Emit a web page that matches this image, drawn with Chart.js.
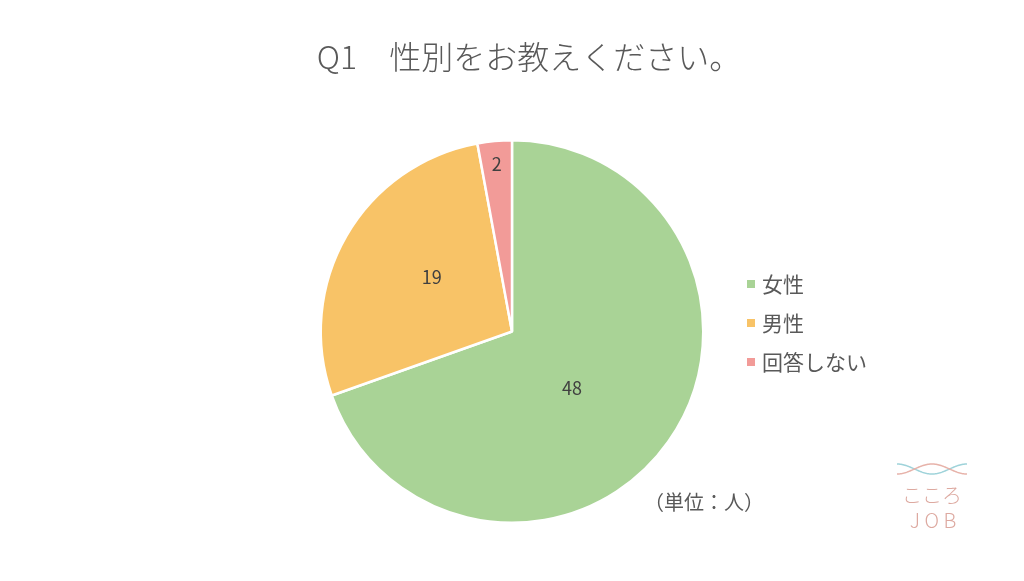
<!DOCTYPE html>
<html lang="ja">
<head>
<meta charset="utf-8">
<title>Q1 性別をお教えください。</title>
<script src="https://cdn.jsdelivr.net/npm/chart.js@4.4.1/dist/chart.umd.min.js"></script>
<style>
  html, body { margin: 0; padding: 0; background: #ffffff; }
  #wrap { position: relative; width: 1024px; height: 581px; }
  canvas { display: block; }
</style>
</head>
<body>
<div id="wrap"><canvas id="chart" width="1024" height="581"></canvas></div>
<script>
// Survey answers (people)
const categories = ['女性', '男性', '回答しない'];
const counts = [48, 19, 2];
const sliceColors = ['#A9D396', '#F8C367', '#F29B98'];
const titleText = 'Q1　性別をお教えください。';
const unitText = '（単位：人）';

const FONT = '"Noto Sans CJK JP", "Noto Sans", sans-serif';
const TEXT_GRAY = '#595959';

// Value labels placed inside each slice (radius fraction, angle nudge in radians)
const labelRadius = [0.43, 0.505, 0.88];
const labelAngleShift = [0.14, 0.068, 0];
const sliceLabels = {
  id: 'sliceLabels',
  afterDatasetsDraw(chart) {
    const ctx = chart.ctx;
    const meta = chart.getDatasetMeta(0);
    ctx.save();
    ctx.font = '18px ' + FONT;
    ctx.fillStyle = '#404040';
    ctx.textAlign = 'center';
    ctx.textBaseline = 'middle';
    meta.data.forEach((arc, i) => {
      const p = arc.getProps(['x', 'y', 'startAngle', 'endAngle', 'outerRadius'], true);
      const mid = (p.startAngle + p.endAngle) / 2 + labelAngleShift[i];
      const r = p.outerRadius * labelRadius[i];
      ctx.fillText(String(counts[i]), p.x + Math.cos(mid) * r, p.y + Math.sin(mid) * r);
    });
    ctx.restore();
  }
};

// Title, legend, unit note and logo
const decorations = {
  id: 'decorations',
  afterDraw(chart) {
    const ctx = chart.ctx;
    ctx.save();
    // title
    ctx.fillStyle = TEXT_GRAY;
    ctx.font = '300 32px ' + FONT;
    ctx.textAlign = 'center';
    ctx.textBaseline = 'middle';
    ctx.fillText(titleText, 529, 57);

    // legend
    ctx.textAlign = 'left';
    ctx.font = '21px ' + FONT;
    categories.forEach((name, i) => {
      const y = 284 + i * 39;
      ctx.fillStyle = sliceColors[i];
      ctx.fillRect(747, y - 4, 8, 8);
      ctx.fillStyle = TEXT_GRAY;
      ctx.fillText(name, 762, y);
    });

    // unit
    ctx.font = '20px ' + FONT;
    ctx.fillText(unitText, 644, 502);

    // logo waves
    const drawWave = (color, sign) => {
      ctx.beginPath();
      for (let x = 0; x <= 70; x++) {
        const y = 469 - sign * Math.cos(x / 70 * 2 * Math.PI) * 5;
        if (x === 0) ctx.moveTo(897 + x, y); else ctx.lineTo(897 + x, y);
      }
      ctx.strokeStyle = color;
      ctx.lineWidth = 1.5;
      ctx.stroke();
    };
    drawWave('#9FD3DA', 1);
    drawWave('#E7B3AA', -1);
    ctx.fillStyle = '#DDA9A0';
    ctx.textAlign = 'center';
    ctx.font = '300 20px ' + FONT;
    ctx.fillText('こころ', 932, 495);
    ctx.font = '300 20px ' + FONT;
    ctx.fillText('J O B', 933, 520);
    ctx.restore();
  }
};

new Chart(document.getElementById('chart'), {
  type: 'pie',
  data: {
    labels: categories,
    datasets: [{
      data: counts,
      backgroundColor: sliceColors,
      borderColor: '#ffffff',
      borderWidth: 2.5
    }]
  },
  options: {
    responsive: false,
    animation: false,
    rotation: 0,
    layout: { padding: { top: 139, bottom: 57, left: 0, right: 0 } },
    plugins: {
      legend: { display: false },
      title: { display: false },
      tooltip: { enabled: false }
    }
  },
  plugins: [sliceLabels, decorations]
});
</script>
</body>
</html>
